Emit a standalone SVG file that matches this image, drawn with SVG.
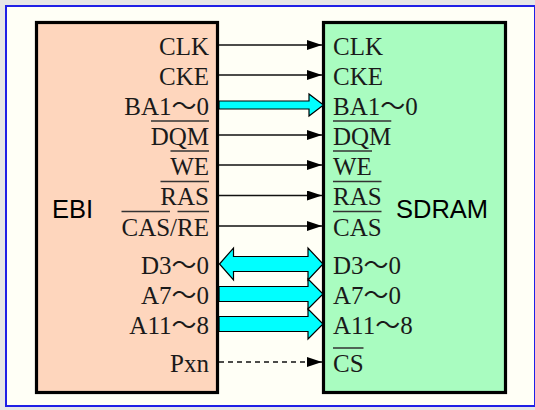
<svg xmlns="http://www.w3.org/2000/svg" width="535" height="410" viewBox="0 0 535 410">
  <style>
    .pin { font-family: "Liberation Serif", "Noto Sans CJK JP", serif; font-size: 25px; fill: #1a1a1a; }
    .pin-l { text-anchor: end; }
    .title { font-family: "Liberation Sans", Arial, sans-serif; font-size: 25.5px; fill: #000; }
    .bar { stroke: #333; stroke-width: 1.5; }
    .box { stroke: #000; stroke-width: 3.2; }
    .sig { stroke: #111; stroke-width: 1.5; fill: none; marker-end: url(#head); }
    .bus { fill: #00ffff; stroke: #000; stroke-width: 1.2; stroke-linejoin: miter; }
  </style>
  <defs>
    <marker id="head" markerUnits="userSpaceOnUse" markerWidth="15" markerHeight="10" refX="15" refY="5" orient="auto">
      <path d="M0,0 L15,5 L0,10 z" fill="#000"/>
    </marker>
  </defs>

  <!-- page background and frame -->
  <rect x="0" y="0" width="535" height="410" fill="#e6e6e6"/>
  <rect x="6" y="6" width="529" height="400" fill="#fffff6" stroke="#1f1fe6" stroke-width="2"/>

  <!-- EBI block -->
  <g id="ebi">
    <rect class="box" x="36.5" y="22.5" width="181" height="370" fill="#fed6bd"/>
    <text class="title" x="52" y="218">EBI</text>
    <text class="pin pin-l" x="209" y="54.5">CLK</text>
    <text class="pin pin-l" x="209" y="84.5">CKE</text>
    <text class="pin pin-l" x="209" y="114.5">BA1〜0</text>
    <text class="pin pin-l" x="209" y="144.5">DQM</text>
    <line class="bar" x1="151" y1="121" x2="209" y2="121"/>
    <text class="pin pin-l" x="209" y="174.5">WE</text>
    <line class="bar" x1="170.5" y1="151" x2="209" y2="151"/>
    <text class="pin pin-l" x="209" y="205">RAS</text>
    <line class="bar" x1="160.5" y1="181.5" x2="209" y2="181.5"/>
    <text class="pin pin-l" x="209" y="235.5">CAS/RE</text>
    <line class="bar" x1="121.5" y1="211.5" x2="170" y2="211.5"/>
    <line class="bar" x1="177.5" y1="211.5" x2="209" y2="211.5"/>
    <text class="pin pin-l" x="209" y="273.5">D3〜0</text>
    <text class="pin pin-l" x="209" y="303.5">A7〜0</text>
    <text class="pin pin-l" x="209" y="333.5">A11〜8</text>
    <text class="pin pin-l" x="209" y="371.5">Pxn</text>
  </g>

  <!-- SDRAM block -->
  <g id="sdram">
    <rect class="box" x="323.5" y="22.5" width="182" height="370" fill="#a9fcc0"/>
    <text class="title" x="396" y="218">SDRAM</text>
    <text class="pin" x="333" y="54.5">CLK</text>
    <text class="pin" x="333" y="84.5">CKE</text>
    <text class="pin" x="333" y="114.5">BA1〜0</text>
    <text class="pin" x="333" y="144.5">DQM</text>
    <line class="bar" x1="333" y1="121" x2="391.3" y2="121"/>
    <text class="pin" x="333" y="174.5">WE</text>
    <line class="bar" x1="333" y1="151" x2="372" y2="151"/>
    <text class="pin" x="333" y="205">RAS</text>
    <line class="bar" x1="333" y1="181.5" x2="381.5" y2="181.5"/>
    <text class="pin" x="333" y="235.5">CAS</text>
    <line class="bar" x1="333" y1="211.5" x2="381.5" y2="211.5"/>
    <text class="pin" x="333" y="273.5">D3〜0</text>
    <text class="pin" x="333" y="303.5">A7〜0</text>
    <text class="pin" x="333" y="333.5">A11〜8</text>
    <text class="pin" x="333" y="371.5">CS</text>
    <line class="bar" x1="333" y1="348" x2="363.5" y2="348"/>
  </g>

  <!-- signal lines and buses -->
  <g id="connectors">
    <line class="sig" x1="219" y1="45" x2="322" y2="45"/>
    <line class="sig" x1="219" y1="75" x2="322" y2="75"/>
    <polygon class="bus" points="219,101 309,101 309,94 323.5,105 309,116 309,109 219,109"/>
    <line class="sig" x1="219" y1="135" x2="322" y2="135"/>
    <line class="sig" x1="219" y1="165" x2="322" y2="165"/>
    <line class="sig" x1="219" y1="195.5" x2="322" y2="195.5"/>
    <line class="sig" x1="219" y1="226" x2="322" y2="226"/>
    <polygon class="bus" points="219.5,264 233.5,248 233.5,256.5 308,256.5 308,248 323,264 308,280 308,271.5 233.5,271.5 233.5,280"/>
    <polygon class="bus" points="219,286.5 308,286.5 308,279 323,294 308,309 308,301.5 219,301.5"/>
    <polygon class="bus" points="219,316.5 308,316.5 308,309 323,324 308,339 308,331.5 219,331.5"/>
    <line class="sig" x1="219" y1="362" x2="322" y2="362" stroke-dasharray="5,4"/>
  </g>
</svg>
